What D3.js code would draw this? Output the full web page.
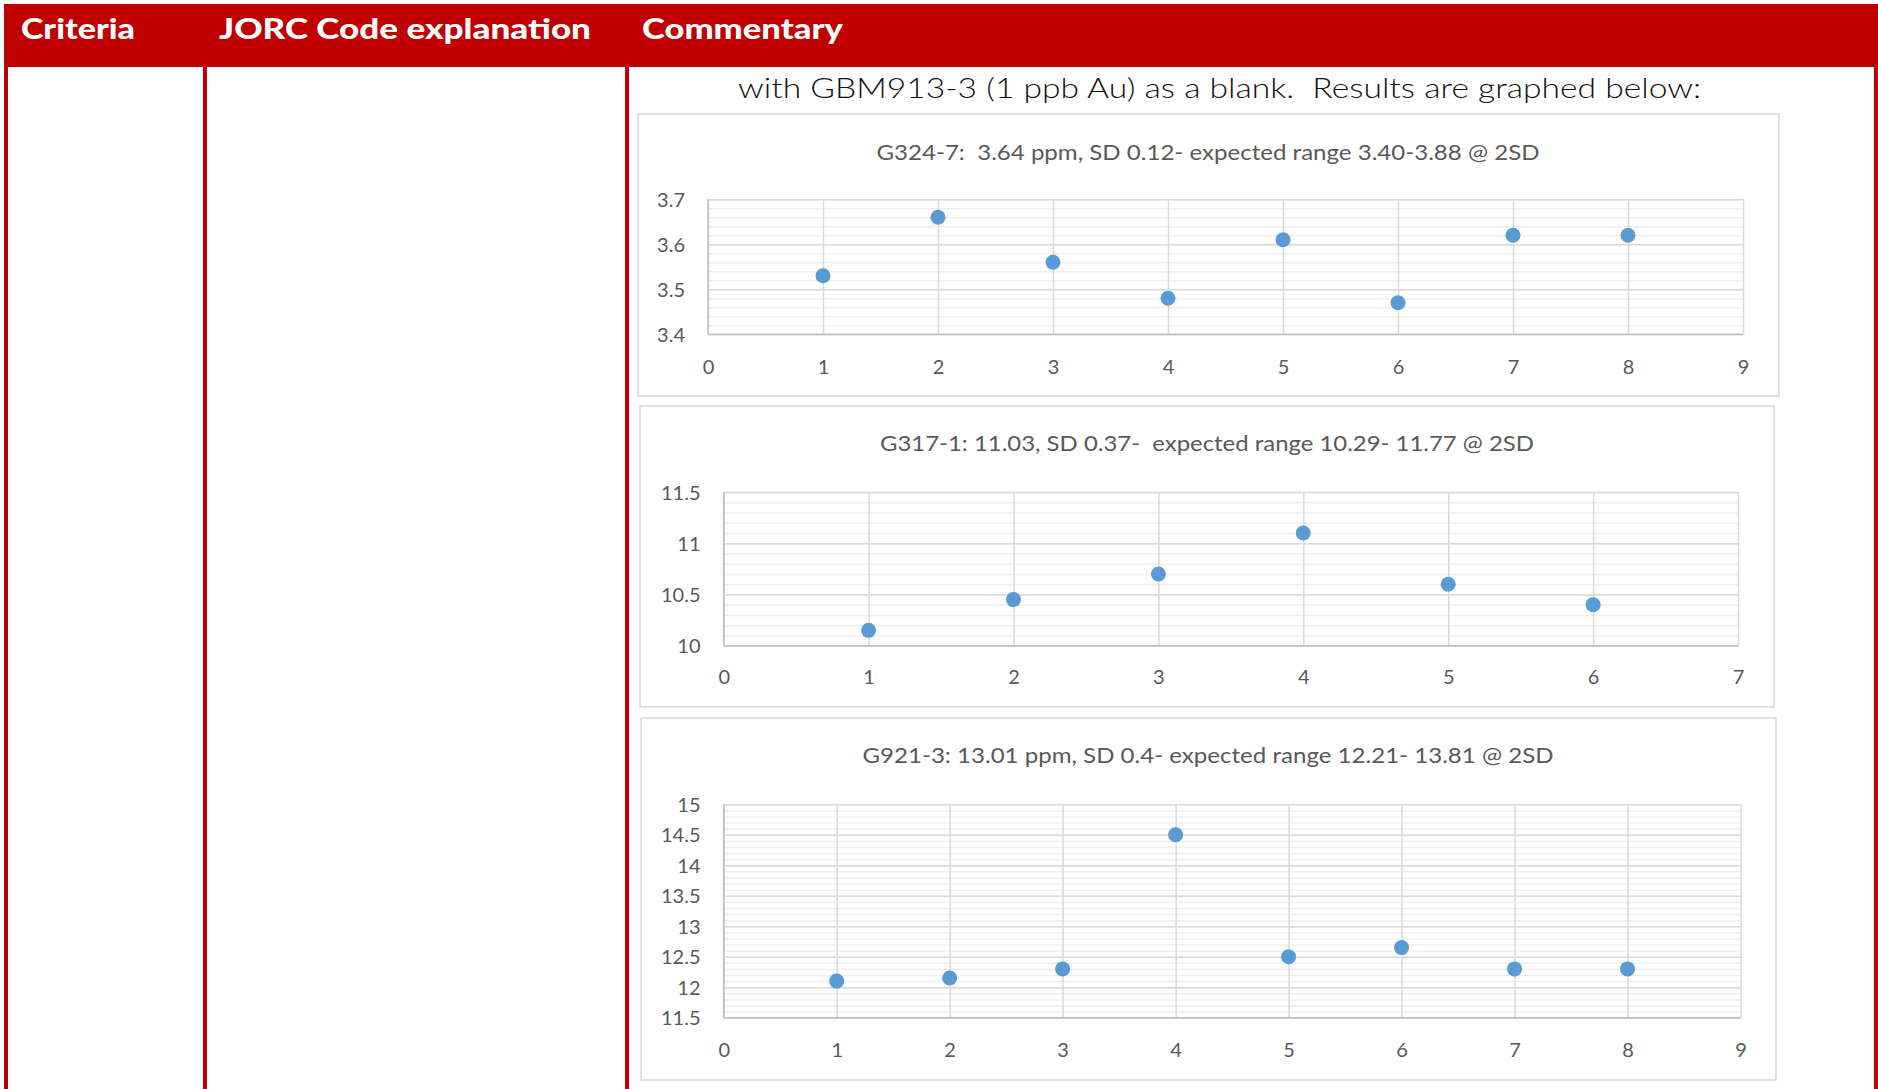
<!DOCTYPE html>
<html><head><meta charset="utf-8">
<script src="https://cdn.jsdelivr.net/npm/d3@7/dist/d3.min.js"></script>
<style>html,body{margin:0;padding:0;background:#fff;overflow:hidden}</style>
</head><body><svg id="c" width="1878" height="1089"></svg>
<script>
// ---------- data ----------
const headerLabels = ["Criteria", "JORC Code explanation", "Commentary"];
const introText = "with GBM913-3 (1 ppb Au) as a blank.  Results are graphed below:";

const chartTitles = [
  "G324-7:  3.64 ppm, SD 0.12- expected range 3.40-3.88 @ 2SD",
  "G317-1: 11.03, SD 0.37-  expected range 10.29- 11.77 @ 2SD",
  "G921-3: 13.01 ppm, SD 0.4- expected range 12.21- 13.81 @ 2SD"
];

const g324Runs = [1, 2, 3, 4, 5, 6, 7, 8];
const g324Values = [3.53, 3.66, 3.56, 3.48, 3.61, 3.47, 3.62, 3.62];
const g324YTicks = [3.4, 3.5, 3.6, 3.7];
const g324YLabels = ["3.4", "3.5", "3.6", "3.7"];
const g324XTicks = [0, 1, 2, 3, 4, 5, 6, 7, 8, 9];

const g317Runs = [1, 2, 3, 4, 5, 6];
const g317Values = [10.15, 10.45, 10.70, 11.10, 10.60, 10.40];
const g317YTicks = [10, 10.5, 11, 11.5];
const g317YLabels = ["10", "10.5", "11", "11.5"];
const g317XTicks = [0, 1, 2, 3, 4, 5, 6, 7];

const g921Runs = [1, 2, 3, 4, 5, 6, 7, 8];
const g921Values = [12.10, 12.15, 12.30, 14.50, 12.50, 12.65, 12.30, 12.30];
const g921YTicks = [11.5, 12, 12.5, 13, 13.5, 14, 14.5, 15];
const g921YLabels = ["11.5", "12", "12.5", "13", "13.5", "14", "14.5", "15"];
const g921XTicks = [0, 1, 2, 3, 4, 5, 6, 7, 8, 9];

// ---------- layout ----------
const RED = "#C00000";
const svg = d3.select("#c");

// header bar
svg.append("rect").attr("x", 4).attr("y", 4).attr("width", 1874).attr("height", 63).attr("fill", RED);
const headerPos = [{x: 21, w: 114}, {x: 219, w: 372}, {x: 642, w: 201}];
svg.selectAll("text.hdr").data(headerLabels).join("text")
  .attr("class", "hdr")
  .attr("x", (d, i) => headerPos[i].x).attr("y", 39)
  .attr("textLength", (d, i) => headerPos[i].w).attr("lengthAdjust", "spacingAndGlyphs")
  .attr("font-family", "Lato, 'Open Sans', sans-serif").attr("font-weight", 900)
  .attr("font-size", 29).attr("fill", "#fff").text(d => d);

// table column lines
[4, 203, 625, 1874].forEach(x => {
  svg.append("rect").attr("x", x).attr("y", 66).attr("width", 4).attr("height", 1089 - 66).attr("fill", RED);
});

// intro text
svg.append("text").attr("x", 738).attr("y", 97.5)
  .attr("textLength", 963).attr("lengthAdjust", "spacingAndGlyphs")
  .style("white-space", "pre")
  .attr("font-family", "Lato, 'Open Sans', sans-serif").attr("font-weight", 300)
  .attr("font-size", 28).attr("fill", "#111").text(introText);

const charts = [
  {title: chartTitles[0], runs: g324Runs, values: g324Values, yTicks: g324YTicks, yLabels: g324YLabels, xTicks: g324XTicks,
   minor: 0.02, box: {x: 638, y: 114, w: 1141, h: 282}, plot: {x0: 708, x1: 1743, y0: 199.3, y1: 334.3},
   titleX: 1208, titleY: 159.5, titleW: 663, yLabX: 685, xLabY: 374},
  {title: chartTitles[1], runs: g317Runs, values: g317Values, yTicks: g317YTicks, yLabels: g317YLabels, xTicks: g317XTicks,
   minor: 0.1, box: {x: 640, y: 406, w: 1134, h: 301}, plot: {x0: 723.7, x1: 1738, y0: 492, y1: 645.7},
   titleX: 1207, titleY: 451, titleW: 654, yLabX: 700.5, xLabY: 684},
  {title: chartTitles[2], runs: g921Runs, values: g921Values, yTicks: g921YTicks, yLabels: g921YLabels, xTicks: g921XTicks,
   minor: 0.1, box: {x: 641, y: 718, w: 1135, h: 362}, plot: {x0: 723.7, x1: 1740.5, y0: 804.3, y1: 1017.7},
   titleX: 1208, titleY: 763, titleW: 691, yLabX: 700.5, xLabY: 1056.5}
];

const FONT = "Lato, 'Open Sans', sans-serif";
const GREY_TXT = "#595959";

charts.forEach(c => {
  const g = svg.append("g");
  g.append("rect").attr("x", c.box.x).attr("y", c.box.y).attr("width", c.box.w).attr("height", c.box.h)
    .attr("fill", "#fff").attr("stroke", "#d9d9d9").attr("stroke-width", 1.5);

  g.append("text").attr("x", c.titleX).attr("y", c.titleY).attr("text-anchor", "middle")
    .attr("textLength", c.titleW).attr("lengthAdjust", "spacingAndGlyphs")
    .style("white-space", "pre")
    .attr("font-family", FONT).attr("font-size", 22).attr("fill", GREY_TXT).text(c.title);

  const yMin = c.yTicks[0], yMax = c.yTicks[c.yTicks.length - 1];
  const xMin = c.xTicks[0], xMax = c.xTicks[c.xTicks.length - 1];
  const x = d3.scaleLinear().domain([xMin, xMax]).range([c.plot.x0, c.plot.x1]);
  const y = d3.scaleLinear().domain([yMin, yMax]).range([c.plot.y1, c.plot.y0]);
  const pw = c.plot.x1 - c.plot.x0, ph = c.plot.y1 - c.plot.y0;

  // minor gridlines
  const nMinor = Math.round((yMax - yMin) / c.minor);
  const minorVals = d3.range(nMinor + 1).map(i => yMin + i * c.minor);
  g.append("g").attr("transform", `translate(${c.plot.x0},0)`)
    .call(d3.axisLeft(y).tickValues(minorVals).tickSize(-pw).tickFormat(""))
    .call(s => s.select(".domain").remove())
    .call(s => s.selectAll("line").attr("stroke", "#efefef").attr("stroke-width", 1.5));

  // vertical gridlines
  g.append("g").attr("transform", `translate(0,${c.plot.y1})`)
    .call(d3.axisBottom(x).tickValues(c.xTicks).tickSize(-ph).tickFormat(""))
    .call(s => s.select(".domain").remove())
    .call(s => s.selectAll("line").attr("stroke", "#d9d9d9").attr("stroke-width", 1.5));

  // major horizontal gridlines
  g.append("g").attr("transform", `translate(${c.plot.x0},0)`)
    .call(d3.axisLeft(y).tickValues(c.yTicks).tickSize(-pw).tickFormat(""))
    .call(s => s.select(".domain").remove())
    .call(s => s.selectAll("line").attr("stroke", "#d9d9d9").attr("stroke-width", 1.5));

  // axis lines
  g.append("line").attr("x1", c.plot.x0).attr("x2", c.plot.x0).attr("y1", c.plot.y0).attr("y2", c.plot.y1)
    .attr("stroke", "#bfbfbf").attr("stroke-width", 1.5);
  g.append("line").attr("x1", c.plot.x0).attr("x2", c.plot.x1).attr("y1", c.plot.y1).attr("y2", c.plot.y1)
    .attr("stroke", "#bfbfbf").attr("stroke-width", 1.5);

  // y tick labels
  const yAx = g.append("g").attr("transform", `translate(${c.yLabX},0)`)
    .call(d3.axisLeft(y).tickValues(c.yTicks).tickSize(0).tickPadding(0)
      .tickFormat((d, i) => c.yLabels[i]));
  yAx.select(".domain").remove();
  yAx.selectAll("text").attr("font-family", FONT).attr("font-size", 20).attr("fill", GREY_TXT)
    .attr("x", 0).attr("dy", "0.36em");

  // x tick labels
  const xAx = g.append("g").attr("transform", `translate(0,${c.xLabY})`)
    .call(d3.axisBottom(x).tickValues(c.xTicks).tickSize(0).tickPadding(0)
      .tickFormat((d, i) => String(c.xTicks[i])));
  xAx.select(".domain").remove();
  xAx.selectAll("text").attr("font-family", FONT).attr("font-size", 20).attr("fill", GREY_TXT)
    .attr("y", 0).attr("dy", 0);

  // points
  g.selectAll("circle.pt").data(c.runs).join("circle").attr("class", "pt")
    .attr("cx", d => x(d)).attr("cy", (d, i) => y(c.values[i])).attr("r", 7.5)
    .attr("fill", "#5B9BD5");
});
</script>
</body></html>
